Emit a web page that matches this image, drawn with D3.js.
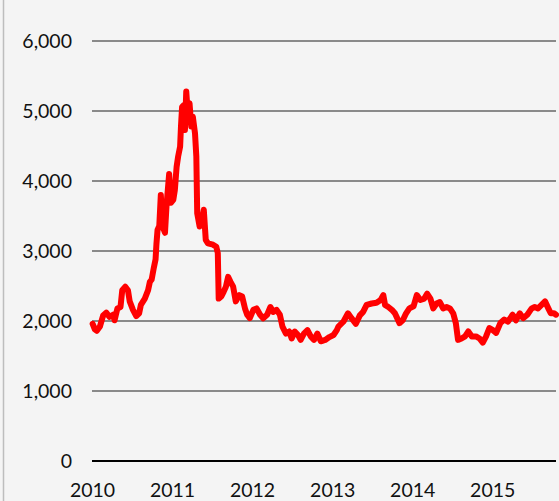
<!DOCTYPE html>
<html>
<head>
<meta charset="utf-8">
<script src="https://cdn.jsdelivr.net/npm/d3@7"></script>
<style>
  html, body { margin: 0; padding: 0; background: #f4f4f4; }
  svg { display: block; }
  text { font-family: Lato, "Open Sans", sans-serif; fill: #111; }
</style>
</head>
<body>
<svg id="chart" width="559" height="501"></svg>
<script>
const dates = [
  "2010-01-04","2010-01-14","2010-01-23","2010-02-06","2010-02-21","2010-03-07","2010-03-22","2010-04-07","2010-04-14","2010-04-27",
  "2010-05-11","2010-05-19","2010-06-02","2010-06-14","2010-06-22","2010-07-07","2010-07-22","2010-08-04","2010-08-12","2010-08-30",
  "2010-09-14","2010-09-22","2010-09-30","2010-10-10","2010-10-18","2010-10-22","2010-10-27","2010-11-04","2010-11-11","2010-11-19",
  "2010-11-30","2010-12-07","2010-12-19","2010-12-27","2011-01-07","2011-01-14","2011-01-22","2011-01-29","2011-02-07","2011-02-11",
  "2011-02-16","2011-02-26","2011-03-01","2011-03-07","2011-03-14","2011-03-22","2011-03-30","2011-04-06","2011-04-16","2011-04-22",
  "2011-04-26","2011-05-07","2011-05-17","2011-05-26","2011-06-04","2011-06-14","2011-07-07","2011-07-22","2011-07-29","2011-08-02",
  "2011-08-14","2011-08-25","2011-09-04","2011-09-14","2011-09-25","2011-10-07","2011-10-19","2011-11-04","2011-11-17","2011-11-30",
  "2011-12-10","2011-12-22","2012-01-07","2012-01-22","2012-02-07","2012-02-21","2012-03-10","2012-03-25","2012-04-07","2012-04-22",
  "2012-05-07","2012-05-19","2012-06-04","2012-06-19","2012-06-30","2012-07-14","2012-07-29","2012-08-10","2012-08-25","2012-09-10",
  "2012-09-25","2012-10-10","2012-10-25","2012-11-10","2012-11-30","2012-12-19","2013-01-07","2013-01-22","2013-01-29","2013-02-21",
  "2013-03-14","2013-03-30","2013-04-19","2013-05-07","2013-05-22","2013-06-07","2013-06-30","2013-07-22","2013-08-10","2013-08-22",
  "2013-08-30","2013-09-14","2013-09-30","2013-10-14","2013-11-04","2013-11-19","2013-12-04","2013-12-19","2014-01-07","2014-01-22",
  "2014-02-07","2014-02-25","2014-03-10","2014-03-25","2014-04-07","2014-04-22","2014-05-07","2014-05-22","2014-06-07","2014-06-22",
  "2014-07-07","2014-07-19","2014-07-29","2014-08-14","2014-08-30","2014-09-14","2014-09-30","2014-10-19","2014-11-04","2014-11-19",
  "2014-12-04","2014-12-19","2015-01-04","2015-01-19","2015-02-07","2015-02-25","2015-03-14","2015-04-04","2015-04-19","2015-05-07",
  "2015-05-22","2015-06-10","2015-06-30","2015-07-14","2015-07-29","2015-08-14","2015-08-30","2015-09-14","2015-09-25","2015-10-10",
  "2015-10-19"
];
const values = [
  1960,1880,1860,1920,2080,2120,2060,2090,2010,2180,
  2200,2440,2490,2440,2280,2160,2070,2110,2230,2320,
  2440,2560,2590,2760,2880,3100,3300,3360,3800,3350,
  3260,3650,4100,3690,3730,3870,4200,4350,4490,4780,
  5060,5090,4730,5280,4970,5110,4780,4920,4680,4350,
  3540,3350,3440,3590,3160,3110,3090,3060,2970,2320,
  2350,2420,2490,2630,2560,2490,2280,2370,2350,2180,
  2090,2040,2160,2180,2090,2040,2090,2200,2130,2160,
  2090,1920,1820,1850,1750,1850,1800,1730,1820,1870,
  1780,1730,1820,1710,1730,1770,1800,1870,1920,1990,
  2110,2040,1960,2080,2130,2230,2250,2260,2300,2370,
  2230,2200,2160,2110,1970,2010,2110,2180,2210,2370,
  2300,2320,2390,2320,2180,2250,2270,2180,2200,2180,
  2110,1970,1730,1750,1780,1850,1780,1780,1750,1690,
  1780,1900,1870,1830,1970,2020,1990,2090,2010,2110,
  2040,2090,2180,2200,2180,2230,2280,2180,2110,2110,
  2090
];
const yTicks = [0, 1000, 2000, 3000, 4000, 5000, 6000];
const xTickYears = [2010, 2011, 2012, 2013, 2014, 2015];

const parse = d3.timeParse("%Y-%m-%d");
const data = dates.map((d, i) => ({ date: parse(d), value: values[i] }));

const svg = d3.select("#chart");
const plotLeft = 92, plotRight = 556, plotTop = 41, plotBottom = 461;

const x = d3.scaleTime()
  .domain([parse("2010-01-01"), parse("2015-10-19")])
  .range([plotLeft, plotRight]);
const y = d3.scaleLinear().domain([0, 6000]).range([plotBottom, plotTop]);

// left border line
svg.append("line")
  .attr("x1", 3.5).attr("x2", 3.5).attr("y1", 0).attr("y2", 501)
  .attr("stroke", "#bdbdbd").attr("stroke-width", 1.5);

// gridlines
svg.append("g").selectAll("line")
  .data(yTicks.filter(t => t > 0))
  .join("line")
  .attr("x1", plotLeft).attr("x2", plotRight)
  .attr("y1", d => y(d)).attr("y2", d => y(d))
  .attr("stroke", "#8a8a8a").attr("stroke-width", 2);

// y axis labels
const yAxis = d3.axisLeft(y).tickValues(yTicks).tickSize(0).tickPadding(0)
  .tickFormat(d3.format(","));
const gy = svg.append("g").attr("transform", "translate(72,0)").call(yAxis);
gy.select(".domain").remove();
gy.selectAll("text").style("font-size", "19.5px").attr("font-family", null).attr("fill", "#111")
  .attr("dy", "0.35em");

// x axis
const xAxis = d3.axisBottom(x)
  .tickValues(xTickYears.map(yr => new Date(yr, 0, 1)))
  .tickSize(0).tickPadding(0).tickFormat(d3.timeFormat("%Y"));
const gx = svg.append("g").attr("transform", `translate(0,${plotBottom})`).call(xAxis);
gx.select(".domain").remove();
gx.selectAll("text").style("font-size", "19.5px").attr("font-family", null).attr("fill", "#111")
  .attr("y", 29).attr("dy", "0.35em");

// zero line
svg.append("line")
  .attr("x1", plotLeft).attr("x2", plotRight)
  .attr("y1", y(0)).attr("y2", y(0))
  .attr("stroke", "#000").attr("stroke-width", 2);

// series line
const line = d3.line().x(d => x(d.date)).y(d => y(d.value));
svg.append("path")
  .datum(data)
  .attr("d", line)
  .attr("fill", "none")
  .attr("stroke", "#ff0000")
  .attr("stroke-width", 6)
  .attr("stroke-linejoin", "round")
  .attr("stroke-linecap", "round");
</script>
</body>
</html>
